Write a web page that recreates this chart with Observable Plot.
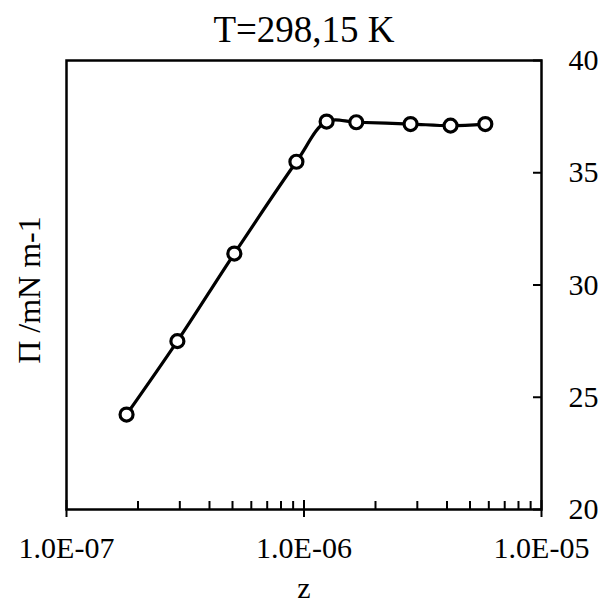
<!DOCTYPE html>
<html>
<head>
<meta charset="utf-8">
<script src="https://cdn.jsdelivr.net/npm/d3@7"></script>
<script src="https://cdn.jsdelivr.net/npm/@observablehq/plot@0.6"></script>
<style>
  html, body { margin: 0; padding: 0; background: #fff; }
  #chart svg { display: block; }
</style>
</head>
<body>
<div id="chart"></div>
<script>
// Data
const zValues  = [1.79e-7, 2.93e-7, 5.09e-7, 9.29e-7, 1.245e-6, 1.66e-6, 2.81e-6, 4.14e-6, 5.80e-6];
const piValues = [24.23, 27.5, 31.4, 35.49, 37.28, 37.25, 37.17, 37.1, 37.17];

const xMajorTicks = [1e-7, 1e-6, 1e-5];
const xTickLabels = ["1.0E-07", "1.0E-06", "1.0E-05"];
const xMinorTicks = [2e-7, 3e-7, 4e-7, 5e-7, 6e-7, 7e-7, 8e-7, 9e-7,
                     2e-6, 3e-6, 4e-6, 5e-6, 6e-6, 7e-6, 8e-6, 9e-6];
const yTicks = [20, 25, 30, 35, 40];

const titleText = "T=298,15 K";
const xLabel = "z";
const yLabel = "Π /mN m-1";

const data = zValues.map((z, i) => ({z, pi: piValues[i]}));

const font = "'Liberation Serif', 'DejaVu Serif', serif";

function xLabelFor(d) {
  const i = xMajorTicks.findIndex(t => Math.abs(Math.log10(t) - Math.log10(d)) < 1e-6);
  return i >= 0 ? xTickLabels[i] : "";
}

const chart = Plot.plot({
  width: 605,
  height: 604,
  marginLeft: 66,
  marginRight: 64,
  marginTop: 60,
  marginBottom: 95,
  style: {fontFamily: font, background: "#fff", color: "#000"},
  x: {type: "log", domain: [1e-7, 1e-5]},
  y: {domain: [20, 40]},
  marks: [
    Plot.frame({stroke: "#000", strokeWidth: 2.5}),
    // minor x ticks (inward)
    Plot.axisX({ticks: xMinorTicks, tickSize: 8, dy: -8, tickFormat: () => "", label: null, strokeWidth: 2}),
    // major x ticks (crossing)
    Plot.axisX({ticks: xMajorTicks, tickSize: 17, dy: -9, tickFormat: () => "", label: null, strokeWidth: 2}),
    // x tick labels
    Plot.axisX({ticks: xMajorTicks, tickSize: 0, tickPadding: 27, tickFormat: xLabelFor, label: null, fontSize: 30, fill: "#000"}),
    // y ticks (inward, right side)
    Plot.axisY({anchor: "right", ticks: yTicks, tickSize: 9, dx: -9, tickFormat: () => "", label: null, strokeWidth: 2}),
    // y tick labels
    Plot.axisY({anchor: "right", ticks: yTicks, tickSize: 0, tickPadding: 27, tickFormat: d => String(d), label: null, fontSize: 30, fill: "#000"}),
    Plot.line(data, {x: "z", y: "pi", curve: "catmull-rom", stroke: "#000", strokeWidth: 3.2}),
    Plot.dot(data, {x: "z", y: "pi", r: 6.5, fill: "#fff", stroke: "#000", strokeWidth: 3.2}),
    // title
    Plot.text([titleText], {frameAnchor: "top", dy: -19, lineAnchor: "bottom", text: d => d, fontSize: 37, fill: "#000"}),
    // x label
    Plot.text([xLabel], {frameAnchor: "bottom", dy: 88, lineAnchor: "bottom", text: d => d, fontSize: 30, fill: "#000"}),
    // y label
    Plot.text([yLabel], {frameAnchor: "left", dx: -37, dy: 5, rotate: -90, textAnchor: "middle", text: d => d, fontSize: 32, fill: "#000"})
  ]
});

document.getElementById("chart").appendChild(chart);
</script>
</body>
</html>
